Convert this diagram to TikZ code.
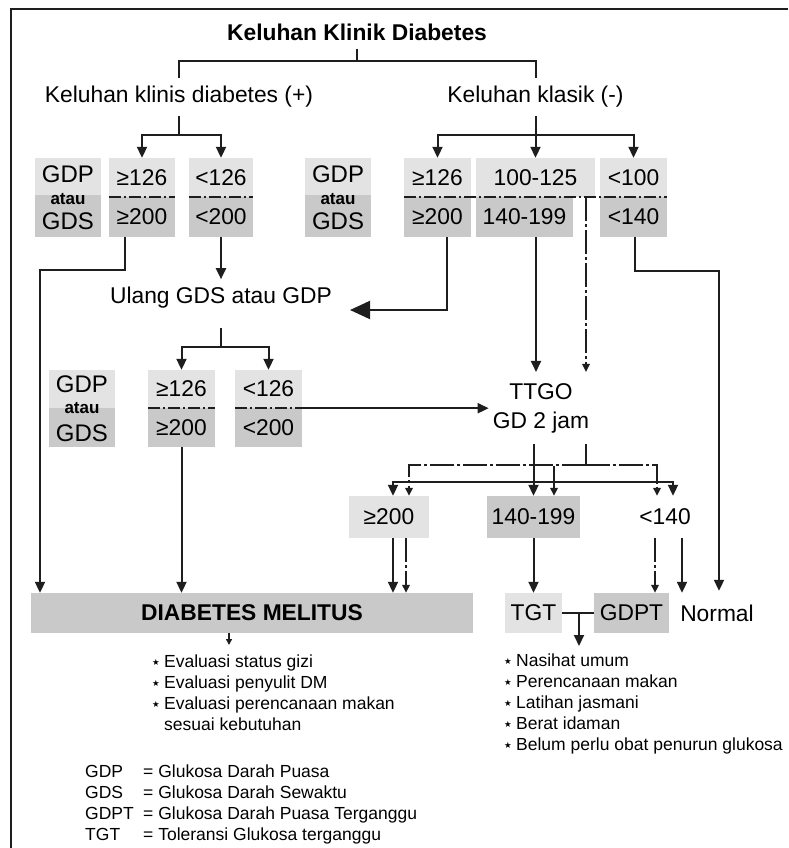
\documentclass[tikz,border=0pt]{standalone}
\usepackage{fontspec}
\setmainfont{Liberation Sans}
\newfontfamily\symfont{DejaVu Sans}
\usetikzlibrary{arrows.meta}

\definecolor{boxlight}{RGB}{227,227,227}
\definecolor{boxdark}{RGB}{201,201,201}
\definecolor{inkgray}{RGB}{30,30,30}
\newcommand{\bul}{\makebox[12pt][l]{\raisebox{2.5pt}{\symfont\fontsize{8.5}{8.5}\selectfont ★}}}

\begin{document}
\begin{tikzpicture}[
    x=1pt, y=-1pt,
    lbl/.style={font=\fontsize{22.8}{27}\selectfont, inner xsep=3pt, inner ysep=8pt},
    num/.style={font=\fontsize{22.8}{27}\selectfont, inner sep=0pt},
    small/.style={font=\bfseries\fontsize{17}{17}\selectfont, inner sep=0pt},
    light/.style={fill=boxlight},
    dark/.style={fill=boxdark},
    ln/.style={draw=inkgray, line width=2pt},
    arr/.style={ln, -{Triangle[length=11pt,width=10pt]}},
    divider/.style={draw=inkgray, line width=1.7pt, dash pattern=on 12pt off 3pt on 2pt off 3pt},
    dd/.style={draw=inkgray, line width=1.7pt, dash pattern=on 24pt off 3pt on 3pt off 3pt},
    ddarr/.style={dd, -{Triangle[length=8pt,width=7.5pt]}},
    bigarr/.style={ln, -{Triangle[length=20pt,width=18pt]}},
    note/.style={font=\fontsize{17.5}{21}\selectfont, align=left, inner sep=0pt},
]
\useasboundingbox (0,0) rectangle (788,848);

% frame
\draw[ln] (11,848) -- (11,9) -- (788,9);

% ---------------------------------------------------------
% headings
% ---------------------------------------------------------
\node[lbl, font=\bfseries\fontsize{22.8}{27}\selectfont] (title) at (357,32) {Keluhan Klinik Diabetes};
\node[lbl] (kp) at (179,97) {Keluhan klinis diabetes (+)};
\node[lbl] (kk) at (535.5,97) {Keluhan klasik (-)};

% ---------------------------------------------------------
% first test row
% ---------------------------------------------------------
\node[light, minimum width=66pt, minimum height=37pt] (g1u) at (68,176.5) {};
\node[dark, minimum width=66pt, minimum height=42pt] (g1l) at (68,216) {};
\node[num, font=\fontsize{24}{24}\selectfont] (g1a) at (68,174) {GDP};
\node[small] (g1b) at (68,199) {atau};
\node[num, font=\fontsize{24}{24}\selectfont] (g1c) at (68,221) {GDS};

\node[num, light, minimum width=66pt, minimum height=39pt] (a1) at (142,177.5) {≥126};
\node[num, dark, minimum width=66pt, minimum height=40pt] (a2) at (142,217) {≥200};
\node[num, light, minimum width=64pt, minimum height=39pt] (b1) at (221,177.5) {<126};
\node[num, dark, minimum width=64pt, minimum height=40pt] (b2) at (221,217) {<200};

\node[light, minimum width=66pt, minimum height=37pt] (g2u) at (338,176.5) {};
\node[dark, minimum width=66pt, minimum height=42pt] (g2l) at (338,216) {};
\node[num, font=\fontsize{24}{24}\selectfont] (g2a) at (338,174) {GDP};
\node[small] (g2b) at (338,199) {atau};
\node[num, font=\fontsize{24}{24}\selectfont] (g2c) at (338,221) {GDS};

\node[num, light, minimum width=67pt, minimum height=39pt] (c1) at (437.5,177.5) {≥126};
\node[num, dark, minimum width=67pt, minimum height=40pt] (c2) at (437.5,217) {≥200};
\node[num, light, minimum width=119pt, minimum height=39pt] (d1) at (535.5,177.5) {100-125};
\node[num, dark, minimum width=97pt, minimum height=40pt] (d2) at (524.5,217) {140-199};
\node[num, light, minimum width=67pt, minimum height=39pt] (e1) at (633.5,177.5) {<100};
\node[num, dark, minimum width=67pt, minimum height=40pt] (e2) at (633.5,217) {<140};

\draw[divider] (a1.south west) -- (a1.south east);
\draw[divider] (b1.south west) -- (b1.south east);
\draw[divider] (c1.south west) -- (e1.south east);

% ---------------------------------------------------------
% repeat test
% ---------------------------------------------------------
\node[lbl] (ulang) at (221,298) {Ulang GDS atau GDP};

\node[light, minimum width=66pt, minimum height=38pt] (g3u) at (82,389) {};
\node[dark, minimum width=66pt, minimum height=39pt] (g3l) at (82,427.5) {};
\node[num, font=\fontsize{24}{24}\selectfont] (g3a) at (82,384) {GDP};
\node[small] (g3b) at (82,408) {atau};
\node[num, font=\fontsize{24}{24}\selectfont] (g3c) at (82,433) {GDS};

\node[num, light, minimum width=67pt, minimum height=38pt] (f1) at (181.5,389) {≥126};
\node[num, dark, minimum width=67pt, minimum height=39pt] (f2) at (181.5,427.5) {≥200};
\node[num, light, minimum width=67pt, minimum height=38pt] (h1) at (268.5,389) {<126};
\node[num, dark, minimum width=67pt, minimum height=39pt] (h2) at (268.5,427.5) {<200};

\draw[divider] (f1.south west) -- (f1.south east);
\draw[divider] (h1.south west) -- (h1.south east);

% ---------------------------------------------------------
% TTGO and its outcomes
% ---------------------------------------------------------
\node[lbl, align=center, font=\fontsize{22.8}{29}\selectfont, inner xsep=4pt, inner ysep=11pt] (ttgo) at (541,408) {TTGO\\GD 2 jam};

\node[num, light, minimum width=80pt, minimum height=42pt] (l1) at (389,517) {≥200};
\node[num, dark, minimum width=93pt, minimum height=42pt] (m1) at (533.5,517) {140-199};
\node[num, minimum width=60pt, minimum height=42pt] (n1) at (665,517) {<140};

\node[num, dark, minimum width=442pt, minimum height=40pt, font=\bfseries\fontsize{22.8}{27}\selectfont] (dm) at (252,613) {DIABETES MELITUS};
\node[num, light, minimum width=57pt, minimum height=40pt] (tgt) at (533.5,613) {TGT};
\node[num, dark, minimum width=75pt, minimum height=40pt] (gdpt) at (631.5,613) {GDPT};
\node[num, minimum height=44pt] (normal) at (717,613) {Normal};

% ---------------------------------------------------------
% connectors
% ---------------------------------------------------------
\coordinate (j0) at (357,61);
\draw[ln] (title.south) -- (j0);
\draw[ln] (kp.north) |- (j0) -| (kk.north);

\coordinate (j1) at (179,135);
\draw[ln] (kp.south) -- (j1);
\draw[arr] (j1) -| (a1.north);
\draw[arr] (j1) -| (b1.north);

\coordinate (j2) at (535.5,135);
\draw[ln] (kk.south) -- (j2);
\draw[arr] (j2) -| (c1.north);
\draw[arr] (j2) -- (d1.north);
\draw[arr] (j2) -| (e1.north);

\coordinate (k1) at (40,270);
\draw[arr] ([xshift=-17pt]a2.south) |- (k1) -- (k1 |- dm.north);
\draw[arr] (b2.south) -- (ulang.north);

\coordinate (k2) at (350,310);
\draw[bigarr] ([xshift=9.5pt]c2.south) |- (k2);

\coordinate (d2s) at ([xshift=11.5pt]d2.south);
\draw[arr] (d2s) -- (d2s |- ttgo.north);
\coordinate (k3) at (586,197);
\draw[ddarr] (k3) -- (k3 |- ttgo.north);

\coordinate (k4) at (719,271);
\draw[arr] ([xshift=1.5pt]e2.south) |- (k4) -- (k4 |- normal.north);

\coordinate (j3) at (221,347);
\draw[ln] ([yshift=-11pt]ulang.south) -- (j3);
\draw[arr] (j3) -| (f1.north);
\draw[arr] (j3) -| (h1.north);
\draw[arr] (h1.south east) -- (h1.south east -| ttgo.west);
\draw[arr] (f2.south) -- (f2.south |- dm.north);

\coordinate (j4) at (533.5,482);
\draw[arr] (m1.north |- ttgo.south) -- (m1.north);
\draw[arr] (j4) -| ([xshift=4pt]l1.north);
\draw[arr] (j4) -| ([xshift=8pt]n1.north);
\coordinate (j5) at (586,465);
\draw[dd] (j5 |- ttgo.south) -- (j5);
\draw[ddarr] (j5) -| ([xshift=20pt]l1.north);
\draw[ddarr] (j5) -| ([xshift=20.5pt]m1.north);
\draw[ddarr] (j5) -| ([xshift=-8pt]n1.north);

\coordinate (l1a) at ([xshift=4pt]l1.south);
\coordinate (l1b) at ([xshift=17pt]l1.south);
\draw[arr] (l1a) -- (l1a |- dm.north);
\draw[ddarr] (l1b) -- (l1b |- dm.north);
\draw[arr] (m1.south) -- (tgt.north);
\coordinate (n1a) at ([xshift=-10pt]n1.south);
\coordinate (n1b) at ([xshift=17pt]n1.south);
\draw[ddarr] (n1a) -- (n1a |- gdpt.north);
\draw[arr] (n1b) -- (n1b |- gdpt.north);

\coordinate (k5) at (229,645);
\draw[ln, -{Triangle[length=6pt,width=6pt]}] (dm.south -| k5) -- (k5);
\draw[ln] (tgt.east) -- (gdpt.west);
\coordinate (k6) at (579,646);
\draw[arr] (k6 |- tgt.east) -- (k6);

% ---------------------------------------------------------
% notes
% ---------------------------------------------------------
\node[note, anchor=north west] (todo1) at (152,655)
  {\bul Evaluasi status gizi\\
   \bul Evaluasi penyulit DM\\
   \bul Evaluasi perencanaan makan\\
   \hspace*{12pt}sesuai kebutuhan};
\node[note, anchor=north west] (todo2) at (504,654)
  {\bul Nasihat umum\\
   \bul Perencanaan makan\\
   \bul Latihan jasmani\\
   \bul Berat idaman\\
   \bul Belum perlu obat penurun glukosa};
\node[note, anchor=north west] (legend) at (85,765)
  {\makebox[58pt][l]{GDP}= Glukosa Darah Puasa\\
   \makebox[58pt][l]{GDS}= Glukosa Darah Sewaktu\\
   \makebox[58pt][l]{GDPT}= Glukosa Darah Puasa Terganggu\\
   \makebox[58pt][l]{TGT}= Toleransi Glukosa terganggu};
\end{tikzpicture}
\end{document}
